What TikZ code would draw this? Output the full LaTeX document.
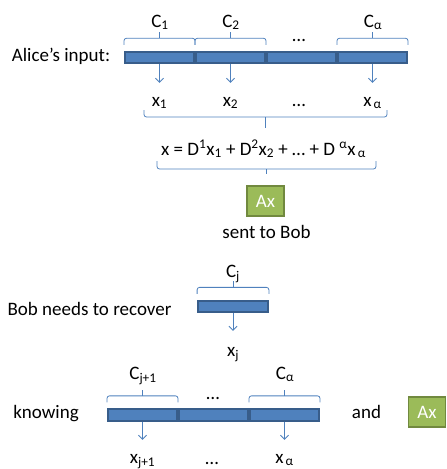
\documentclass[tikz,border=0pt]{standalone}
\usepackage{fontspec}
\setmainfont{Carlito}
\usetikzlibrary{arrows.meta}
\definecolor{barfill}{HTML}{4F81BD}
\definecolor{barline}{HTML}{385D8A}
\definecolor{boxfill}{HTML}{9BBB59}
\definecolor{boxline}{HTML}{71893F}
\definecolor{thinblue}{HTML}{4F81BD}

% curly brace drawn above a bar segment
\newcommand\segbrace[1]{%
  \draw[bracel] ([yshift=6pt]#1.north west) -- ([yshift=12.5pt]#1.north west)
    -- ([yshift=12.5pt]#1.north east) -- ([yshift=6pt]#1.north east);
  \draw[bracel] ([yshift=12.5pt]#1.north) -- ([yshift=18.5pt]#1.north);}

\begin{document}
\begin{tikzpicture}[x=1pt,y=-1pt,
  font=\fontsize{19}{23}\selectfont,
  seg/.style={draw=barline, fill=barfill, line width=1.8pt, minimum width=69.2pt,
    minimum height=11.5pt, inner sep=0pt},
  txt/.style={anchor=base, inner sep=0pt},
  xlbl/.style={anchor=base, inner sep=0pt, text height=23pt},
  arr/.style={draw=thinblue, line width=0.8pt, -{Straight Barb[length=4pt,width=8pt]}},
  bracel/.style={draw=thinblue, line width=0.8pt, rounded corners=2.5pt},
  axbox/.style={draw=boxline, fill=boxfill, line width=1.8pt, text=white,
    minimum width=37pt, minimum height=30.5pt, inner sep=0pt}]
\useasboundingbox (0,0) rectangle (447,469);

% ---- Alice's input ----
\node[txt] (alice) at (61,61) {Alice’s input:};
\node[seg] (s1) at (159.5,57.4) {};
\node[seg] (s2) at (230.5,57.4) {};
\node[seg] (s3) at (301.5,57.4) {};
\node[seg] (s4) at (372.5,57.4) {};
\segbrace{s1}
\segbrace{s2}
\segbrace{s4}
\node[txt] (c1) at (160,27) {C\textsubscript{1}};
\node[txt] (c2) at (231,27) {C\textsubscript{2}};
\node[txt] (cdots) at (299,41) {…};
\node[txt] (ca) at (373,27) {C\textsubscript{α}};

\node[xlbl] (x1) at (159.5,106) {x\textsubscript{1}};
\node[xlbl] (x2) at (230.5,106) {x\textsubscript{2}};
\node[txt] (xdots) at (299,106) {…};
\node[xlbl] (xa) at (372.5,106) {x\textsubscript{\,α}};
\draw[arr] (s1.south) -- (s1.south |- x1.north);
\draw[arr] (s2.south) -- (s2.south |- x2.north);
\draw[arr] (s4.south) -- (s4.south |- xa.north);

% brace gathering the parts
\draw[bracel] (144,110) -- (144,117) -- (387,117) -- (387,110);
\draw[bracel] (265.5,117) -- (265.5,128);

\node[txt] (eq) at (263.5,155)
  {x = D\textsuperscript{1}x\textsubscript{1} + D\textsuperscript{2}x\textsubscript{2} + … + D \textsuperscript{α}x\textsubscript{\,α}};
\draw[bracel] (157,161) -- (157,169) -- (376,169) -- (376,161);
\draw[bracel] (266,169) -- (266,174);

\node[axbox] (ax) at (265.5,201) {Ax};
\node[txt] (sent) at (266.5,238) {sent to Bob};

% ---- Bob ----
\node[txt] (bob) at (89.5,315) {Bob needs to recover};
\node[seg, minimum width=70pt] (bj) at (233,306.5) {};
\segbrace{bj}
\node[txt] (cj) at (233,277) {C\textsubscript{j}};
\node[xlbl, text height=25pt] (xj) at (233,356) {x\textsubscript{j}};
\draw[arr] (bj.south) -- (bj.south |- xj.north);

% ---- known blocks ----
\node[txt] (know) at (46,418) {knowing};
\node[seg] (k1) at (142.5,415) {};
\node[seg] (k2) at (213.5,415) {};
\node[seg] (k3) at (284.5,415) {};
\segbrace{k1}
\segbrace{k3}
\node[txt] (cj1) at (143,379) {C\textsubscript{j+1}};
\node[txt] (kdots) at (213,399) {…};
\node[txt] (cka) at (285,379) {C\textsubscript{α}};

\node[xlbl] (xj1) at (142.5,463) {x\textsubscript{j+1}};
\node[txt] (kxdots) at (212,464) {…};
\node[xlbl] (xka) at (284.5,463) {x\textsubscript{\,α}};
\draw[arr] (k1.south) -- (k1.south |- xj1.north);
\draw[arr] (k3.south) -- (k3.south |- xka.north);

\node[txt] (and) at (366.5,418) {and};
\node[axbox] (ax2) at (427,412) {Ax};
\end{tikzpicture}
\end{document}
